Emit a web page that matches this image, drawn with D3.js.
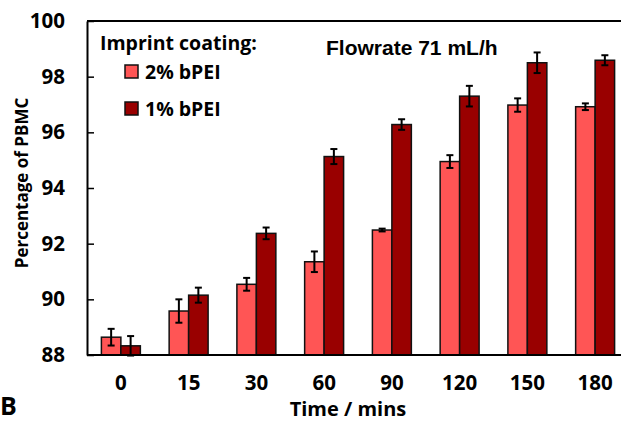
<!DOCTYPE html>
<html><head><meta charset="utf-8">
<script src="https://cdn.jsdelivr.net/npm/d3@7/dist/d3.min.js"></script>
<style>body{margin:0;background:#fff}svg{display:block}</style>
</head><body>
<svg id="c" width="621" height="421"></svg>
<script>
const categories = ["0","15","30","60","90","120","150","180"];
const series = ["2% bPEI","1% bPEI"];
const values2 = [88.64, 89.58, 90.54, 91.35, 92.49, 94.95, 96.98, 96.92];
const errors2 = [0.30, 0.42, 0.23, 0.37, 0.05, 0.23, 0.24, 0.12];
const values1 = [88.33, 90.15, 92.37, 95.13, 96.28, 97.30, 98.50, 98.59];
const errors1 = [0.35, 0.27, 0.21, 0.27, 0.19, 0.37, 0.37, 0.18];
const yTicks = [88, 90, 92, 94, 96, 98, 100];
const colors = ["#FF5555", "#990000"];

const svg = d3.select("#c");
const L = 87, R = 629, T = 21, B = 355;
const x = d3.scaleBand().domain(categories).range([L, R]).paddingInner(0.425).paddingOuter(0.2125);
const xs = d3.scaleBand().domain(series).range([0, x.bandwidth()]);
const y = d3.scaleLinear().domain([88, 100]).range([B, T]);
const font = "'Open Sans', sans-serif";

const data = categories.flatMap((c, i) => [
  {c, s: series[0], v: values2[i], e: errors2[i], k: 0},
  {c, s: series[1], v: values1[i], e: errors1[i], k: 1}
]);

// bars
svg.append("g").selectAll("rect").data(data).join("rect")
  .attr("x", d => x(d.c) + xs(d.s))
  .attr("y", d => y(d.v))
  .attr("width", xs.bandwidth())
  .attr("height", d => y(88) - y(d.v))
  .attr("fill", d => colors[d.k])
  .attr("stroke", "#111").attr("stroke-width", 1.5);

// error bars
const eg = svg.append("g").attr("stroke", "#000").attr("stroke-width", 2);
data.forEach(d => {
  const cx = x(d.c) + xs(d.s) + xs.bandwidth() / 2;
  eg.append("line").attr("x1", cx).attr("x2", cx).attr("y1", y(d.v + d.e)).attr("y2", y(d.v - d.e));
  eg.append("line").attr("x1", cx - 3.5).attr("x2", cx + 3.5).attr("y1", y(d.v + d.e)).attr("y2", y(d.v + d.e));
  eg.append("line").attr("x1", cx - 3.5).attr("x2", cx + 3.5).attr("y1", y(d.v - d.e)).attr("y2", y(d.v - d.e));
});

// y axis
const ya = svg.append("g").attr("transform", `translate(${L},0)`)
  .call(d3.axisLeft(y).tickValues(yTicks).tickSizeInner(-7).tickSizeOuter(0).tickPadding(22));
ya.select(".domain").attr("stroke", "#000").attr("stroke-width", 2);
ya.selectAll(".tick line").attr("stroke", "#000").attr("stroke-width", 1.5);
ya.selectAll(".tick text").attr("font-family", font).attr("font-weight", "bold")
  .attr("font-size", 20.5).attr("fill", "#000");

// x axis
const xa = svg.append("g").attr("transform", `translate(0,${B})`)
  .call(d3.axisBottom(x).tickSize(0).tickPadding(20));
xa.select(".domain").remove();
svg.append("line").attr("x1", L).attr("x2", 621).attr("y1", B).attr("y2", B).attr("stroke", "#000").attr("stroke-width", 2);
xa.selectAll(".tick text").attr("font-family", font).attr("font-weight", "bold")
  .attr("font-size", 20.5).attr("fill", "#000");

// top frame line
svg.append("line").attr("x1", L).attr("x2", 621).attr("y1", T).attr("y2", T).attr("stroke", "#000").attr("stroke-width", 2);

// axis titles
svg.append("text").attr("x", 348).attr("y", 416).attr("text-anchor", "middle")
  .attr("font-family", font).attr("font-weight", "bold").attr("font-size", 20).text("Time / mins");
svg.append("text").attr("transform", "translate(28,183) rotate(-90)").attr("text-anchor", "middle")
  .attr("font-family", font).attr("font-weight", "bold").attr("font-size", 17).text("Percentage of PBMC");
svg.append("text").attr("x", 0).attr("y", 415)
  .attr("font-family", font).attr("font-weight", "bold").attr("font-size", 25).text("B");

// annotation
svg.append("text").attr("x", 326).attr("y", 55)
  .attr("font-family", "'Liberation Sans', Arial, sans-serif").attr("font-weight", "bold").attr("font-size", 21).text("Flowrate 71 mL/h");

// legend
svg.append("text").attr("x", 100).attr("y", 50)
  .attr("font-family", font).attr("font-weight", "bold").attr("font-size", 19.5).text("Imprint coating:");
const lg = svg.append("g").selectAll("g").data(series).join("g")
  .attr("transform", (d, i) => `translate(125,${65 + i * 37})`);
lg.append("rect").attr("width", 13).attr("height", 13).attr("fill", (d, i) => colors[i])
  .attr("stroke", "#111").attr("stroke-width", 1.5);
lg.append("text").attr("x", 20).attr("y", 14)
  .attr("font-family", font).attr("font-weight", "bold").attr("font-size", 19.5).text(d => d);
</script>
</body></html>
